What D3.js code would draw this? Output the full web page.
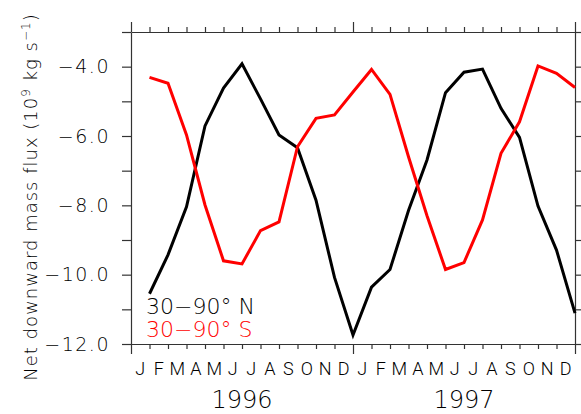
<!DOCTYPE html>
<html>
<head>
<meta charset="utf-8">
<script src="https://cdn.jsdelivr.net/npm/d3@7"></script>
<style>
  html, body { margin: 0; padding: 0; background: #fff; }
  svg { display: block; }
  text { font-family: "DejaVu Sans", sans-serif; font-weight: 300; fill: #000; }
</style>
</head>
<body>
<svg id="chart" width="581" height="414"></svg>
<script>
const months = ["J","F","M","A","M","J","J","A","S","O","N","D"];
const years = ["1996","1997"];
const north = [-10.55, -9.43, -8.04, -5.71, -4.62, -3.92, -4.93, -5.97, -6.34, -7.85, -10.08, -11.74,
               -10.36, -9.85, -8.15, -6.69, -4.75, -4.16, -4.07, -5.20, -6.04, -8.02, -9.29, -11.11];
const south = [-4.31, -4.48, -5.97, -7.99, -9.60, -9.69, -8.73, -8.48, -6.31, -5.49, -5.39, -4.73,
               -4.08, -4.80, -6.60, -8.30, -9.85, -9.65, -8.42, -6.50, -5.59, -3.98, -4.19, -4.60];
const yTicks = [-12, -11, -10, -9, -8, -7, -6, -5, -4, -3];
const yLabelTicks = [-12, -10, -8, -6, -4];
const seriesNames = ["30\u221290\u00B0 N", "30\u221290\u00B0 S"];
const seriesColors = ["#000000", "#ff0000"];

const svg = d3.select("#chart");
const pL = 131, pR = 575, pT = 32, pB = 344;

const x = d3.scaleLinear().domain([-1, 23]).range([pL, pR]);
const y = d3.scaleLinear().domain([-12, -3]).range([pB, pT]);

const xTickVals = d3.range(-1, 24);
const isMajor = d => d === -1 || d === 11 || d === 23;
const axisColor = "#333";

function styleAxis(g) {
  g.selectAll("path.domain").attr("stroke", axisColor).attr("stroke-width", 1.2);
  g.selectAll(".tick line").attr("stroke", axisColor).attr("stroke-width", 1.2);
}

// bottom axis
const gB = svg.append("g").attr("transform", `translate(0,${pB})`)
  .call(d3.axisBottom(x).tickValues(xTickVals).tickSizeOuter(0).tickFormat(""));
gB.selectAll(".tick line").attr("y2", d => isMajor(d) ? 10 : 5);
styleAxis(gB);

// top axis
const gT = svg.append("g").attr("transform", `translate(0,${pT})`)
  .call(d3.axisTop(x).tickValues(xTickVals).tickSizeOuter(0).tickFormat(""));
gT.selectAll(".tick line").attr("y2", d => isMajor(d) ? -10 : -5);
styleAxis(gT);

// left axis
const gL = svg.append("g").attr("transform", `translate(${pL},0)`)
  .call(d3.axisLeft(y).tickValues(yTicks).tickSize(9).tickSizeOuter(0)
    .tickFormat(d => yLabelTicks.includes(d) ? d3.format(".1f")(d).replace("-", "\u2212") : ""));
styleAxis(gL);
gL.selectAll(".tick text")
  .attr("x", -21)
  .attr("font-family", "DejaVu Sans, sans-serif")
  .attr("font-size", 19)
  .attr("font-weight", 300)
  .attr("letter-spacing", 1.5)
  .attr("fill", "#000");

// right axis
const gR = svg.append("g").attr("transform", `translate(${pR},0)`)
  .call(d3.axisRight(y).tickValues(yTicks).tickSize(9).tickSizeOuter(0).tickFormat(""));
styleAxis(gR);

// month labels
const monthIdx = d3.range(0, 24);
svg.append("g")
  .selectAll("text").data(monthIdx).join("text")
  .attr("x", d => x(d - 0.5))
  .attr("y", 375)
  .attr("text-anchor", "middle")
  .attr("font-size", 18)
  .style("font-family", "Roboto, 'Liberation Sans', sans-serif")
  .style("font-weight", 300)
  .style("fill", "#000")
  .text(d => months[d % 12]);

// year labels
svg.append("g").selectAll("text").data(years).join("text")
  .attr("x", (d, i) => x(5 + 12 * i))
  .attr("y", 408)
  .attr("text-anchor", "middle")
  .attr("font-size", 24)
  .text(d => d);

// y title
const title = svg.append("text")
  .attr("transform", `translate(37,197) rotate(-90)`)
  .attr("text-anchor", "middle")
  .attr("font-size", 18)
  .attr("letter-spacing", 1);
title.append("tspan").text("Net downward mass flux (10");
title.append("tspan").attr("dy", -7).attr("font-size", 12).text("9");
title.append("tspan").attr("dy", 7).text(" kg s");
title.append("tspan").attr("dy", -7).attr("font-size", 12).text("\u22121");
title.append("tspan").attr("dy", 7).text(")");

// lines
const line = d3.line().x((d, i) => x(i)).y(d => y(d));
[north, south].forEach((s, k) => {
  svg.append("path")
    .datum(s)
    .attr("d", line)
    .attr("fill", "none")
    .attr("stroke", seriesColors[k])
    .attr("stroke-width", 3)
    .attr("stroke-linejoin", "miter");
});

// legend
svg.append("g").selectAll("text").data(seriesNames).join("text")
  .attr("x", 146)
  .attr("y", (d, i) => 314 + 23 * i)
  .attr("font-size", 22)
  .style("fill", (d, i) => seriesColors[i])
  .text(d => d);
</script>
</body>
</html>
